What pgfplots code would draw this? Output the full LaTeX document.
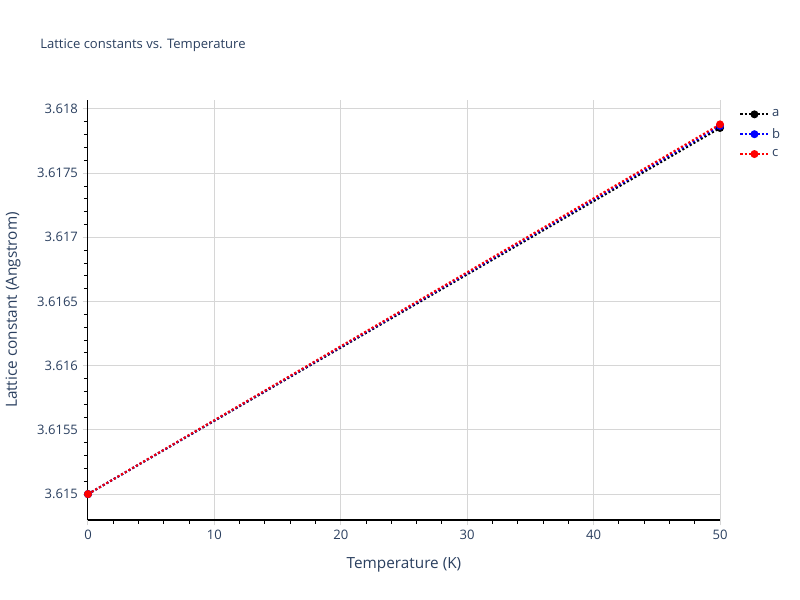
\documentclass[border=0pt]{standalone}
\usepackage{pgfplots}
\pgfplotsset{compat=1.18}
\usepackage{fontspec}
\setmainfont{Open Sans}
\definecolor{txt}{RGB}{42,63,95}
\definecolor{gridc}{RGB}{214,214,214}
\begin{document}
\begin{tikzpicture}
\node[anchor=west,text=txt,font=\fontsize{9.8}{11}\selectfont,inner sep=0pt] at (30pt,416pt) {Lattice constants vs. Temperature};
\begin{axis}[
    at={(66pt,60pt)},
    anchor=south west,
    scale only axis,
    width=474pt,
    height=315pt,
    xmin=0, xmax=50,
    ymin=3.614798, ymax=3.61807,
    axis x line*=bottom,
    axis y line*=left,
    axis line style={black,line width=0.75pt},
    xtick={0,10,20,30,40,50},
    minor x tick num=4,
    ytick={3.615,3.6155,3.616,3.6165,3.617,3.6175,3.618},
    yticklabels={3.615,3.6155,3.616,3.6165,3.617,3.6175,3.618},
    minor y tick num=4,
    scaled y ticks=false,
    tick align=outside,
    major tick length=4pt,
    minor tick length=3pt,
    major tick style={gridc,line width=0.75pt},
    minor tick style={black,line width=0.75pt},
    grid=major,
    major grid style={gridc,line width=0.75pt},
    /pgf/number format/assume math mode=true,
    ticklabel style={text=txt,font=\fontsize{9.8}{11}\selectfont},
    xlabel={Temperature (K)},
    ylabel={Lattice constant (Angstrom)},
    label style={text=txt,font=\fontsize{11.5}{13}\selectfont},
    xlabel style={yshift=-6.5pt},
    ylabel style={yshift=5.5pt},
    legend style={at={(1.024,0.99)},anchor=north west,draw=none,fill=none,
        font=\fontsize{9.8}{11}\selectfont,text=txt,row sep=3pt},
    legend cell align=left,
    legend image code/.code={
        \draw[#1,mark=none] (0pt,0pt) -- (21pt,0pt);
        \draw[#1,solid] plot coordinates {(10.5pt,0pt)};},
    clip=false,
    ]
\addplot[black,dash pattern=on 1.6pt off 1.6pt,line width=1.5pt,mark=*,mark size=2.2pt,mark options={solid}] coordinates {
(0, 3.61500)
(50, 3.617852)
};
\addplot[blue,dash pattern=on 1.6pt off 1.6pt,line width=1.5pt,mark=*,mark size=2.2pt,mark options={solid}] coordinates {
(0, 3.61500)
(50, 3.617868)
};
\addplot[red,dash pattern=on 1.6pt off 1.6pt,line width=1.5pt,mark=*,mark size=2.2pt,mark options={solid}] coordinates {
(0, 3.61500)
(50, 3.617880)
};
\legend{a,b,c}
\end{axis}
\pgfresetboundingbox
\path[use as bounding box] (0pt,0pt) rectangle (600pt,450pt);
\end{tikzpicture}
\end{document}
